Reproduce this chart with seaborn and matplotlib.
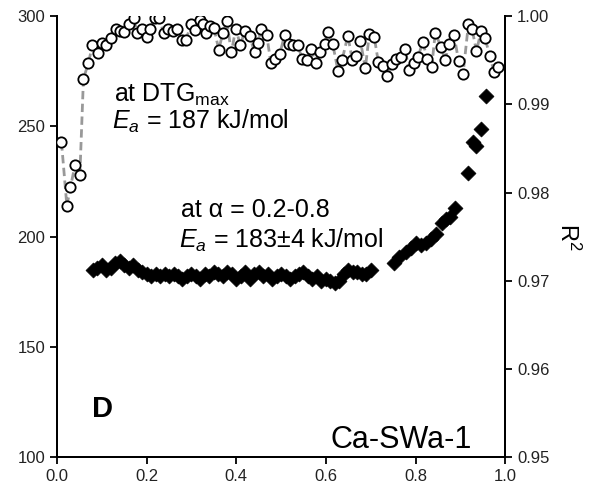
import matplotlib
matplotlib.use("Agg")
import matplotlib.pyplot as plt
import seaborn as sns

# R² at DTGmax (open circles, right axis)
alpha_r2 = [0.010, 0.022, 0.030, 0.040, 0.051, 0.059, 0.070, 0.079, 0.091, 0.100,
            0.109, 0.120, 0.131, 0.140, 0.149, 0.160, 0.171, 0.179, 0.189, 0.200,
            0.207, 0.218, 0.228, 0.238, 0.248, 0.259, 0.268, 0.278, 0.287, 0.300,
            0.309, 0.318, 0.326, 0.333, 0.341, 0.350, 0.361, 0.370, 0.379, 0.389,
            0.399, 0.409, 0.419, 0.430, 0.441, 0.448, 0.456, 0.468, 0.477, 0.486,
            0.497, 0.508, 0.517, 0.526, 0.537, 0.547, 0.557, 0.567, 0.577, 0.586,
            0.597, 0.604, 0.615, 0.627, 0.636, 0.649, 0.659, 0.667, 0.677, 0.688,
            0.697, 0.708, 0.717, 0.727, 0.736, 0.748, 0.757, 0.768, 0.777, 0.785,
            0.796, 0.806, 0.816, 0.826, 0.836, 0.844, 0.857, 0.866, 0.875, 0.886,
            0.896, 0.906, 0.918, 0.926, 0.936, 0.946, 0.955, 0.966, 0.975, 0.985]
r2 = [0.9857, 0.9785, 0.9806, 0.9831, 0.9820, 0.9929, 0.9947, 0.9967, 0.9958, 0.9970,
      0.9967, 0.9975, 0.9986, 0.9983, 0.9982, 0.9991, 0.9998, 0.9981, 0.9985, 0.9976,
      0.9986, 0.9998, 0.9998, 0.9981, 0.9985, 0.9983, 0.9986, 0.9973, 0.9973, 0.9991,
      0.9984, 0.9996, 0.9991, 0.9981, 0.9989, 0.9987, 0.9962, 0.9981, 0.9994, 0.9959,
      0.9986, 0.9967, 0.9983, 0.9977, 0.9959, 0.9970, 0.9986, 0.9979, 0.9947, 0.9952,
      0.9957, 0.9979, 0.9969, 0.9967, 0.9967, 0.9952, 0.9950, 0.9963, 0.9947, 0.9959,
      0.9969, 0.9982, 0.9969, 0.9938, 0.9950, 0.9978, 0.9950, 0.9955, 0.9972, 0.9941,
      0.9980, 0.9976, 0.9948, 0.9944, 0.9932, 0.9946, 0.9952, 0.9954, 0.9963, 0.9939,
      0.9947, 0.9954, 0.9971, 0.9952, 0.9942, 0.9981, 0.9965, 0.9950, 0.9969, 0.9979,
      0.9949, 0.9934, 0.9991, 0.9986, 0.9960, 0.9983, 0.9975, 0.9955, 0.9937, 0.9942]

# Ea (filled diamonds, left axis)
alpha_ea = [0.08, 0.09, 0.10, 0.11, 0.12, 0.13, 0.14, 0.15, 0.16, 0.17,
            0.18, 0.19, 0.20, 0.21, 0.22, 0.23, 0.24, 0.25, 0.26, 0.27,
            0.28, 0.29, 0.30, 0.31, 0.32, 0.33, 0.34, 0.35, 0.36, 0.37,
            0.38, 0.39, 0.40, 0.41, 0.42, 0.43, 0.44, 0.45, 0.46, 0.47,
            0.48, 0.49, 0.50, 0.51, 0.52, 0.53, 0.54, 0.55, 0.56, 0.57,
            0.58, 0.59, 0.60, 0.61, 0.62, 0.63, 0.64, 0.65, 0.66, 0.67,
            0.68, 0.69, 0.70,
            0.753, 0.764, 0.778, 0.79, 0.80, 0.812, 0.824, 0.834, 0.846, 0.858,
            0.867, 0.877, 0.888, 0.918, 0.928, 0.936, 0.946, 0.957]
ea = [185, 186, 187, 185, 186, 188, 189, 187, 186, 187,
      185, 184, 183, 182, 183, 182, 183, 182, 183, 182,
      181, 182, 183, 182, 181, 183, 182, 184, 183, 182,
      184, 183, 181, 182, 184, 181, 183, 184, 182, 183,
      181, 182, 183, 182, 181, 182, 183, 184, 182, 181,
      182, 180, 181, 180, 179, 180, 183, 185, 184, 184,
      183, 183, 185,
      188, 191, 193, 195, 197, 196, 197, 199, 201, 206,
      208, 209, 213, 229, 243, 241, 249, 264]

sns.set_style("ticks")
plt.rcParams['font.family'] = ['Liberation Sans', 'DejaVu Sans']
plt.rcParams['mathtext.fontset'] = 'custom'
plt.rcParams['mathtext.rm'] = 'Liberation Sans'
plt.rcParams['mathtext.it'] = 'Liberation Sans:italic'
plt.rcParams['text.color'] = 'black'
plt.rcParams['axes.labelcolor'] = 'black'

fig = plt.figure(figsize=(5.92, 4.91), dpi=100)
ax = fig.add_axes([0.0963, 0.069, 0.757, 0.898])
ax2 = ax.twinx()

# Ea diamonds
sns.scatterplot(x=alpha_ea, y=ea, ax=ax, marker='D', s=58, color='black',
                edgecolor='black', linewidth=0.5, zorder=3)

# R2 dashed line + open circles
sns.lineplot(x=alpha_r2, y=r2, ax=ax2, color='#999999', linewidth=2,
             linestyle=(0, (3, 1.6)), sort=False, estimator=None, zorder=2)
sns.scatterplot(x=alpha_r2, y=r2, ax=ax2, marker='o', s=55, facecolor='white',
                edgecolor='black', linewidth=1.3, zorder=4)

ax.set_xlim(0, 1)
ax.set_ylim(100, 300)
ax2.set_ylim(0.95, 1.00)
ax.set_xticks([0, 0.2, 0.4, 0.6, 0.8, 1.0])
ax.set_xticklabels(['0.0', '0.2', '0.4', '0.6', '0.8', '1.0'])
ax.set_yticks([100, 150, 200, 250, 300])
ax2.set_yticks([0.95, 0.96, 0.97, 0.98, 0.99, 1.00])
ax2.set_yticklabels(['0.95', '0.96', '0.97', '0.98', '0.99', '1.00'])
ax2.set_ylabel('R$^2$', fontsize=17, rotation=270, labelpad=22)

for a in (ax, ax2):
    a.spines['top'].set_visible(False)
    for s in ('left', 'right', 'bottom'):
        a.spines[s].set_linewidth(1.4)
        a.spines[s].set_color('black')
    a.tick_params(direction='out', length=5, width=1.3, labelsize=12,
                  colors='black', labelcolor='#222222')

ax.text(0.127, 261, r'at DTG$_{\mathrm{max}}$', fontsize=18)
ax.text(0.123, 249, r'$E_a$ = 187 kJ/mol', fontsize=18)
ax.text(0.277, 209, 'at α = 0.2-0.8', fontsize=18)
ax.text(0.273, 195, r'$E_a$ = 183±4 kJ/mol', fontsize=18)
ax.text(0.078, 118, 'D', fontsize=21, fontweight='bold')
ax.text(0.926, 104, 'Ca-SWa-1', fontsize=22, ha='right')

fig.savefig('out.png', dpi=100)
